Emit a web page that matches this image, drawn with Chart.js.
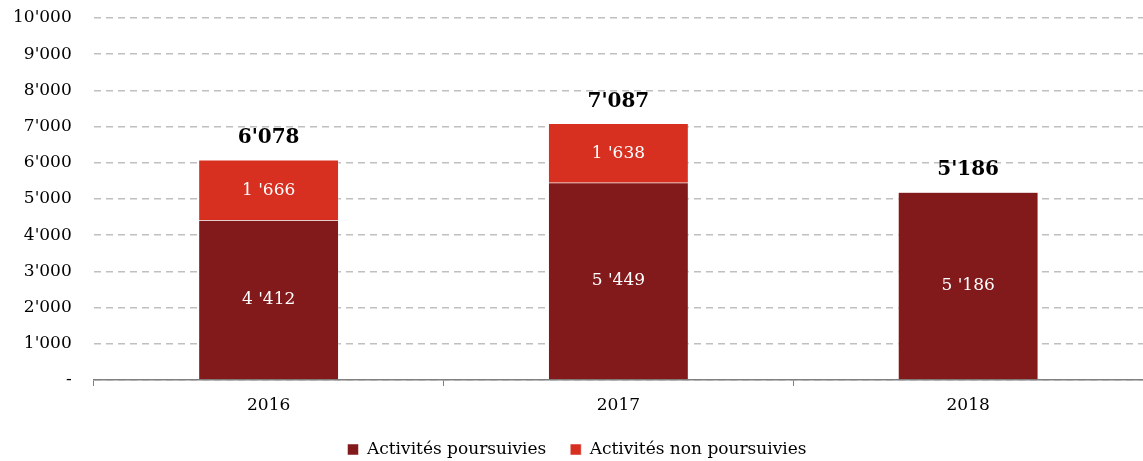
<!DOCTYPE html>
<html>
<head>
<meta charset="utf-8">
<script src="https://cdn.jsdelivr.net/npm/chart.js@4"></script>
<style>
  html, body { margin: 0; padding: 0; background: #fff; }
  #wrap { width: 1143px; height: 461px; }
</style>
</head>
<body>
<div id="wrap"><canvas id="chart"></canvas></div>
<script>
// ── DATA ──
const years = ['2016', '2017', '2018'];
const poursuivies = [4412, 5449, 5186];
const nonPoursuivies = [1666, 1638, null];
const insideLabels = {
    poursuivies: ['4 \'412', '5 \'449', '5 \'186'],
    nonPoursuivies: ['1 \'666', '1 \'638', '']
};

const FONT = 'DejaVu Serif';
const DARK = '#821A1C';
const RED = '#D72F20';

const fmt = v => {
    if (v === 0) return '-';
    const s = String(Math.round(v));
    return s.replace(/\B(?=(\d{3})+(?!\d))/g, "'");
};

// ── LABELS ──
const barLabels = {
    id: 'barLabels',
    afterDatasetsDraw(chart) {
        const { ctx } = chart;
        const keys = ['poursuivies', 'nonPoursuivies'];
        ctx.save();
        ctx.textAlign = 'center';
        ctx.textBaseline = 'middle';
        chart.data.datasets.forEach((ds, di) => {
            const meta = chart.getDatasetMeta(di);
            meta.data.forEach((bar, i) => {
                const txt = insideLabels[keys[di]][i];
                if (!txt || ds.data[i] == null) return;
                const { y, base, x } = bar.getProps(['x', 'y', 'base'], true);
                ctx.fillStyle = '#fff';
                ctx.font = '17px ' + FONT;
                ctx.fillText(txt, x, (y + base) / 2);
            });
        });
        // totals
        const yScale = chart.scales.y;
        const meta0 = chart.getDatasetMeta(0);
        ctx.fillStyle = '#000';
        ctx.font = 'bold 20px ' + FONT;
        years.forEach((_, i) => {
            const total = poursuivies[i] + (nonPoursuivies[i] || 0);
            const x = meta0.data[i].x;
            ctx.fillText(fmt(total), x, yScale.getPixelForValue(total) - 22);
        });
        ctx.restore();
    }
};

// ── CHART ──
const ctx = document.getElementById('chart').getContext('2d');
new Chart(ctx, {
    type: 'bar',
    data: {
        labels: years,
        datasets: [{
            label: 'Activités poursuivies',
            data: poursuivies,
            backgroundColor: DARK,
            borderColor: '#fff',
            borderWidth: 0.5,
            barPercentage: 0.4,
            categoryPercentage: 1
        }, {
            label: 'Activités non poursuivies',
            data: nonPoursuivies,
            backgroundColor: RED,
            borderColor: '#fff',
            borderWidth: 0.5,
            barPercentage: 0.4,
            categoryPercentage: 1
        }]
    },
    options: {
        responsive: true,
        maintainAspectRatio: false,
        animation: false,
        layout: { padding: { left: 11, right: 0, top: 18, bottom: -7 } },
        scales: {
            x: {
                stacked: true,
                grid: {
                    drawOnChartArea: false,
                    drawTicks: true,
                    tickLength: 6,
                    color: '#808080'
                },
                border: { color: '#808080', width: 1.5 },
                ticks: { color: '#000', font: { family: FONT, size: 17 }, padding: 9 },
                afterFit(scale) { scale.height = 37; }
            },
            y: {
                stacked: true,
                min: 0, max: 10000,
                grid: {
                    color: '#BFBFBF',
                    lineWidth: 1.5,
                    drawTicks: true,
                    tickLength: 20,
                    tickColor: 'rgba(0,0,0,0)'
                },
                border: { display: false, dash: [7, 5] },
                ticks: {
                    stepSize: 1000,
                    color: '#000',
                    padding: 2,
                    font: { family: FONT, size: 17 },
                    callback: v => fmt(v)
                }
            }
        },
        plugins: {
            legend: {
                position: 'bottom',
                labels: {
                    color: '#000',
                    font: { family: FONT, size: 17 },
                    boxWidth: 11,
                    boxHeight: 11,
                    padding: 24
                }
            },
            tooltip: { enabled: false }
        }
    },
    plugins: [barLabels]
});
</script>
</body>
</html>
